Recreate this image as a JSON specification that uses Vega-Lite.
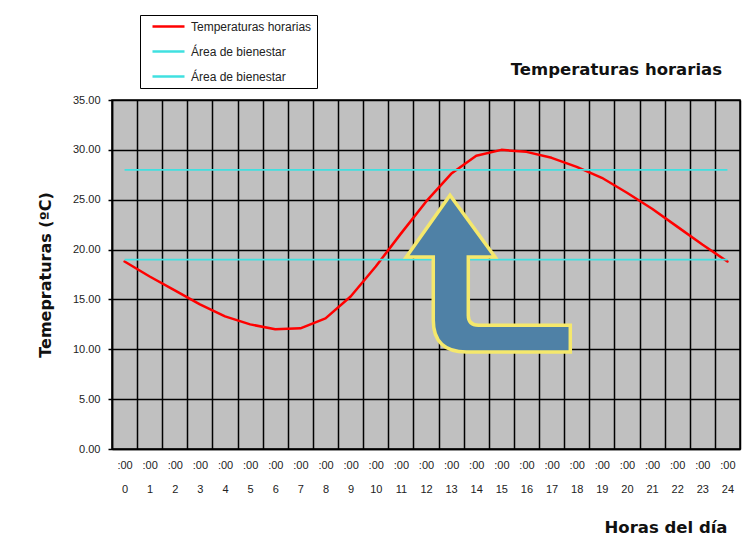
{
  "$schema": "https://vega.github.io/schema/vega-lite/v6.json",
  "width": 628,
  "height": 349,
  "autosize": {"type": "none"},
  "padding": {"left": 112, "top": 100, "right": 5, "bottom": 107},
  "background": "white",
  "config": {
    "view": {"fill": "#c0c0c0", "stroke": "black", "strokeWidth": 1.5},
    "font": "Liberation Sans"
  },
  "title": {
    "text": "Temperaturas horarias",
    "anchor": "end",
    "frame": "group",
    "font": "DejaVu Sans",
    "fontSize": 16.5,
    "fontWeight": "bold",
    "color": "#111111",
    "baseline": "alphabetic",
    "offset": 0,
    "dy": 77,
    "dx": -18
  },
  "resolve": {"axis": {"x": "independent"}},
  "layer": [
    {
      "data": {
        "values": [
          {"hora": 0, "temp": 18.8, "serie": "Temperaturas horarias"},
          {"hora": 1, "temp": 17.3, "serie": "Temperaturas horarias"},
          {"hora": 2, "temp": 15.9, "serie": "Temperaturas horarias"},
          {"hora": 3, "temp": 14.5, "serie": "Temperaturas horarias"},
          {"hora": 4, "temp": 13.3, "serie": "Temperaturas horarias"},
          {"hora": 5, "temp": 12.5, "serie": "Temperaturas horarias"},
          {"hora": 6, "temp": 12.0, "serie": "Temperaturas horarias"},
          {"hora": 7, "temp": 12.1, "serie": "Temperaturas horarias"},
          {"hora": 8, "temp": 13.1, "serie": "Temperaturas horarias"},
          {"hora": 9, "temp": 15.3, "serie": "Temperaturas horarias"},
          {"hora": 10, "temp": 18.3, "serie": "Temperaturas horarias"},
          {"hora": 11, "temp": 21.6, "serie": "Temperaturas horarias"},
          {"hora": 12, "temp": 24.8, "serie": "Temperaturas horarias"},
          {"hora": 13, "temp": 27.6, "serie": "Temperaturas horarias"},
          {"hora": 14, "temp": 29.4, "serie": "Temperaturas horarias"},
          {"hora": 15, "temp": 30.0, "serie": "Temperaturas horarias"},
          {"hora": 16, "temp": 29.8, "serie": "Temperaturas horarias"},
          {"hora": 17, "temp": 29.2, "serie": "Temperaturas horarias"},
          {"hora": 18, "temp": 28.3, "serie": "Temperaturas horarias"},
          {"hora": 19, "temp": 27.2, "serie": "Temperaturas horarias"},
          {"hora": 20, "temp": 25.7, "serie": "Temperaturas horarias"},
          {"hora": 21, "temp": 24.1, "serie": "Temperaturas horarias"},
          {"hora": 22, "temp": 22.3, "serie": "Temperaturas horarias"},
          {"hora": 23, "temp": 20.5, "serie": "Temperaturas horarias"},
          {"hora": 24, "temp": 18.8, "serie": "Temperaturas horarias"}
        ]
      },
      "mark": {"type": "line", "strokeWidth": 2.5, "strokeCap": "round", "strokeJoin": "round"},
      "encoding": {
        "x": {
          "field": "hora",
          "type": "quantitative",
          "scale": {"domain": [-0.5, 24.5], "nice": false, "zero": false},
          "axis": {
            "orient": "bottom",
            "values": [0, 1, 2, 3, 4, 5, 6, 7, 8, 9, 10, 11, 12, 13, 14, 15, 16, 17, 18, 19, 20, 21, 22, 23, 24],
            "format": "d",
            "labelExpr": "[':00', datum.label]",
            "labelLineHeight": 24,
            "labelBaseline": "top",
            "labelPadding": 10,
            "labelFontSize": 11,
            "labelColor": "#222222",
            "labelFlush": false,
            "labelOverlap": false,
            "grid": false,
            "ticks": false,
            "domain": true,
            "domainColor": "black",
            "domainWidth": 1.5,
            "title": "Horas del día",
            "titleFont": "DejaVu Sans",
            "titleFontSize": 16.5,
            "titleFontWeight": "bold",
            "titleColor": "#111111",
            "titleX": 615,
            "titleY": 78,
            "titleAlign": "right",
            "titleBaseline": "middle"
          }
        },
        "y": {
          "field": "temp",
          "type": "quantitative",
          "scale": {"domain": [0, 35], "nice": false, "zero": true},
          "axis": {
            "values": [0, 5, 10, 15, 20, 25, 30, 35],
            "format": ".2f",
            "labelFontSize": 11,
            "labelColor": "#222222",
            "labelPadding": 8,
            "tickSize": 4,
            "tickColor": "black",
            "tickWidth": 1.5,
            "domainColor": "black",
            "domainWidth": 1.5,
            "grid": true,
            "gridColor": "black",
            "gridWidth": 1.5,
            "gridOpacity": 1,
            "title": "Temepraturas (ºC)",
            "titleFont": "DejaVu Sans",
            "titleFontSize": 16,
            "titleFontWeight": "bold",
            "titleColor": "#111111",
            "titleX": -67,
            "titleY": 174.5,
            "titleAngle": -90,
            "titleAlign": "center",
            "titleBaseline": "middle"
          }
        },
        "color": {
          "field": "serie",
          "type": "nominal",
          "scale": {
            "domain": ["Temperaturas horarias", "Área de bienestar", "Área de bienestar "],
            "range": ["#ff0000", "#40e0e0", "#40e0e0"]
          },
          "legend": {
            "orient": "none",
            "legendX": 28,
            "legendY": -85,
            "title": null,
            "symbolType": "M0.2,0H6.6",
            "symbolSize": 100,
            "symbolStrokeWidth": 2.5,
            "labelOffset": 33,
            "labelFontSize": 12,
            "labelColor": "#222222",
            "rowPadding": 12,
            "padding": 5,
            "strokeColor": "black",
            "fillColor": "white"
          }
        }
      }
    },
    {
      "data": {
        "values": [
          {"hora": 0, "temp": 28, "serie": "Área de bienestar"},
          {"hora": 24, "temp": 28, "serie": "Área de bienestar"},
          {"hora": 0, "temp": 19, "serie": "Área de bienestar "},
          {"hora": 24, "temp": 19, "serie": "Área de bienestar "}
        ]
      },
      "mark": {"type": "line", "strokeWidth": 1.8},
      "encoding": {
        "x": {"field": "hora", "type": "quantitative", "axis": null},
        "y": {"field": "temp", "type": "quantitative"},
        "color": {"field": "serie", "type": "nominal"}
      }
    },
    {
      "data": {"values": [{"hora": 14.48, "temp": 17.57}]},
      "mark": {
        "type": "point",
        "shape": "M-0.467,-0.957L0.082,-0.205L-0.244,-0.205L-0.244,0.506Q-0.244,0.628,-0.122,0.628L1,0.628L1,0.954L-0.268,0.954Q-0.671,0.954,-0.671,0.567L-0.671,-0.205L-1,-0.205Z",
        "size": 26896,
        "filled": true,
        "fill": "#4f81a6",
        "stroke": "#f5e86c",
        "strokeWidth": 3.5,
        "strokeJoin": "miter",
        "opacity": 1
      },
      "encoding": {
        "x": {
          "field": "hora",
          "type": "quantitative",
          "axis": {
            "orient": "top",
            "values": [-0.5, 0.5, 1.5, 2.5, 3.5, 4.5, 5.5, 6.5, 7.5, 8.5, 9.5, 10.5, 11.5, 12.5, 13.5, 14.5, 15.5, 16.5, 17.5, 18.5, 19.5, 20.5, 21.5, 22.5, 23.5, 24.5],
            "labels": false,
            "ticks": false,
            "domain": false,
            "grid": true,
            "gridColor": "black",
            "gridWidth": 1.5,
            "gridOpacity": 1,
            "title": null
          }
        },
        "y": {"field": "temp", "type": "quantitative"}
      }
    }
  ]
}
